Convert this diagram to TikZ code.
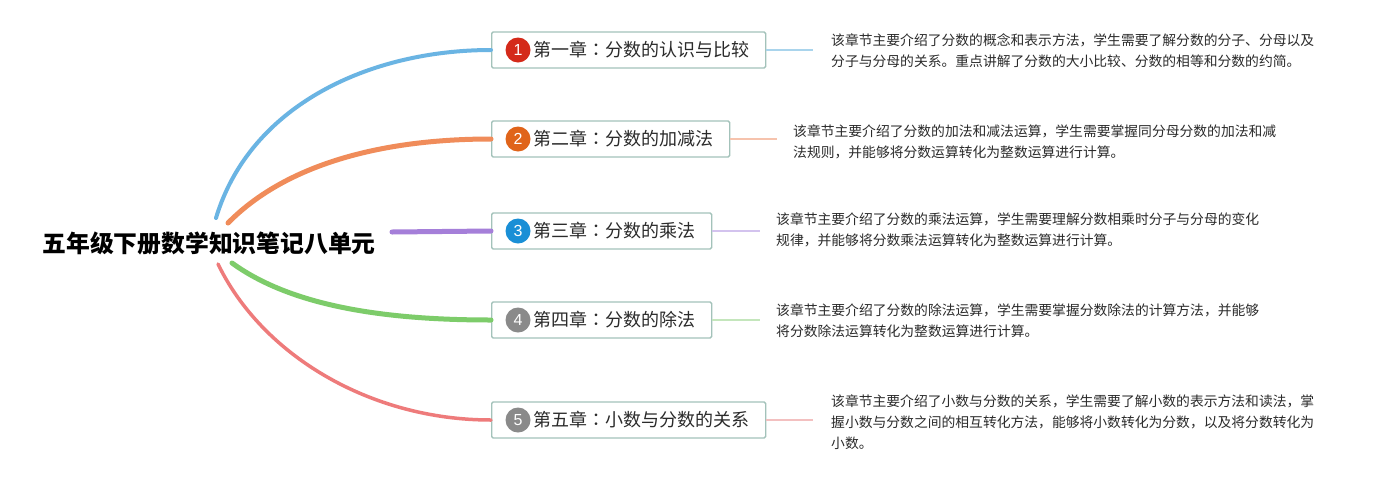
\documentclass[tikz,border=0pt]{standalone}
\usepackage{fontspec}
\setmainfont{Noto Sans CJK SC}
\newfontfamily\cjk{Noto Sans CJK SC}
\newfontfamily\tcfont{Noto Sans CJK TC}
\newfontfamily\digitfont{Liberation Sans}
\newcommand{\zcolon}{{\tcfont ：}}
\usetikzlibrary{calc}
\definecolor{cBlue}{HTML}{6AB4E3}
\definecolor{cOrange}{HTML}{F08C5A}
\definecolor{cPurple}{HTML}{A57FD9}
\definecolor{cGreen}{HTML}{7DCC6A}
\definecolor{cRed}{HTML}{EE7B7B}
\definecolor{lBlue}{HTML}{A9D4EC}
\definecolor{lOrange}{HTML}{F6C3AD}
\definecolor{lPurple}{HTML}{D3C3EE}
\definecolor{lGreen}{HTML}{C4E6BC}
\definecolor{lRed}{HTML}{F3C0C0}
\definecolor{boxline}{HTML}{A3C2BA}
\definecolor{txt}{HTML}{2B2B2B}
\definecolor{iRed}{HTML}{D42A1A}
\definecolor{iOrange}{HTML}{E0641A}
\definecolor{iBlue}{HTML}{1A8FD6}
\definecolor{iGray}{HTML}{8A8A8A}
\tikzset{
  chapbox/.style={draw=boxline, line width=1.4pt, rounded corners=1.5pt, fill=white,
    minimum height=36pt, inner ysep=0pt, inner xsep=16pt, anchor=west,
    font=\cjk\fontsize{18}{18}\selectfont, text=txt},
  icon/.style={circle, minimum size=25pt, inner sep=0pt, text=white,
    font=\digitfont\fontsize{16}{16}\selectfont},
  note/.style={anchor=west, inner sep=0pt, align=left, text=txt,
    font=\cjk\fontsize{13.8}{21}\selectfont},
  branch/.style={line cap=round},
  link/.style={line width=1.5pt}
}
\begin{document}
\begin{tikzpicture}[x=1pt,y=-1pt]
\path[fill=white] (0,0) rectangle (1389,480);
\useasboundingbox (0,0) rectangle (1389,480);

\node[inner sep=0pt, anchor=center, text=black, font=\cjk\bfseries\fontsize{23.8}{24}\selectfont] (root) at (209,243) {五年级下册数学知识笔记八单元};

\coordinate (r1) at (216,218);
\coordinate (r2) at (228,223);
\coordinate (r3) at (392,232);
\coordinate (r4) at (232,263);
\coordinate (r5) at (218,264);

\node[chapbox] (c1) at (491,50) {\hspace*{26pt}第一章\zcolon 分数的认识与比较};
\node[chapbox] (c2) at (491,139) {\hspace*{26pt}第二章\zcolon 分数的加减法};
\node[chapbox] (c3) at (491,231) {\hspace*{26pt}第三章\zcolon 分数的乘法};
\node[chapbox] (c4) at (491,320) {\hspace*{26pt}第四章\zcolon 分数的除法};
\node[chapbox] (c5) at (491,420) {\hspace*{26pt}第五章\zcolon 小数与分数的关系};

\node[icon, fill=iRed] (i1) at ($(c1.west)+(27,0)$) {1};
\node[icon, fill=iOrange] (i2) at ($(c2.west)+(27,0)$) {2};
\node[icon, fill=iBlue] (i3) at ($(c3.west)+(27,0)$) {3};
\node[icon, fill=iGray] (i4) at ($(c4.west)+(27,0)$) {4};
\node[icon, fill=iGray] (i5) at ($(c5.west)+(27,0)$) {5};

\node[note] (n1) at (831,51) {该章节主要介绍了分数的概念和表示方法，学生需要了解分数的分子、分母以及\\分子与分母的关系。重点讲解了分数的大小比较、分数的相等和分数的约简。};
\node[note] (n2) at (793,142) {该章节主要介绍了分数的加法和减法运算，学生需要掌握同分母分数的加法和减\\法规则，并能够将分数运算转化为整数运算进行计算。};
\node[note] (n3) at (776,230) {该章节主要介绍了分数的乘法运算，学生需要理解分数相乘时分子与分母的变化\\规律，并能够将分数乘法运算转化为整数运算进行计算。};
\node[note] (n4) at (776,321) {该章节主要介绍了分数的除法运算，学生需要掌握分数除法的计算方法，并能够\\将分数除法运算转化为整数运算进行计算。};
\node[note] (n5) at (831,422) {该章节主要介绍了小数与分数的关系，学生需要了解小数的表示方法和读法，掌\\握小数与分数之间的相互转化方法，能够将小数转化为分数，以及将分数转化为\\小数。};

\draw[link, lBlue] (c1.east) -- ($(n1.west |- c1.east)+(-18,0)$);
\draw[link, lOrange] (c2.east) -- ($(n2.west |- c2.east)+(-16,0)$);
\draw[link, lPurple] (c3.east) -- ($(n3.west |- c3.east)+(-16,0)$);
\draw[link, lGreen] (c4.east) -- ($(n4.west |- c4.east)+(-16,0)$);
\draw[link, lRed] (c5.east) -- ($(n5.west |- c5.east)+(-18,0)$);

\draw[branch, cBlue, line width=4pt] (r1) .. controls (250,105) and (370,50) .. (c1.west);
\draw[branch, cOrange, line width=5pt] (r2) .. controls (285,165) and (380,139) .. (c2.west);
\draw[branch, cPurple, line width=5pt] (r3) -- (c3.west);
\draw[branch, cGreen, line width=5pt] (r4) .. controls (290,305) and (380,320) .. (c4.west);
\draw[branch, cRed, line width=3.5pt] (r5) .. controls (262,355) and (370,420) .. (c5.west);
\end{tikzpicture}
\end{document}
